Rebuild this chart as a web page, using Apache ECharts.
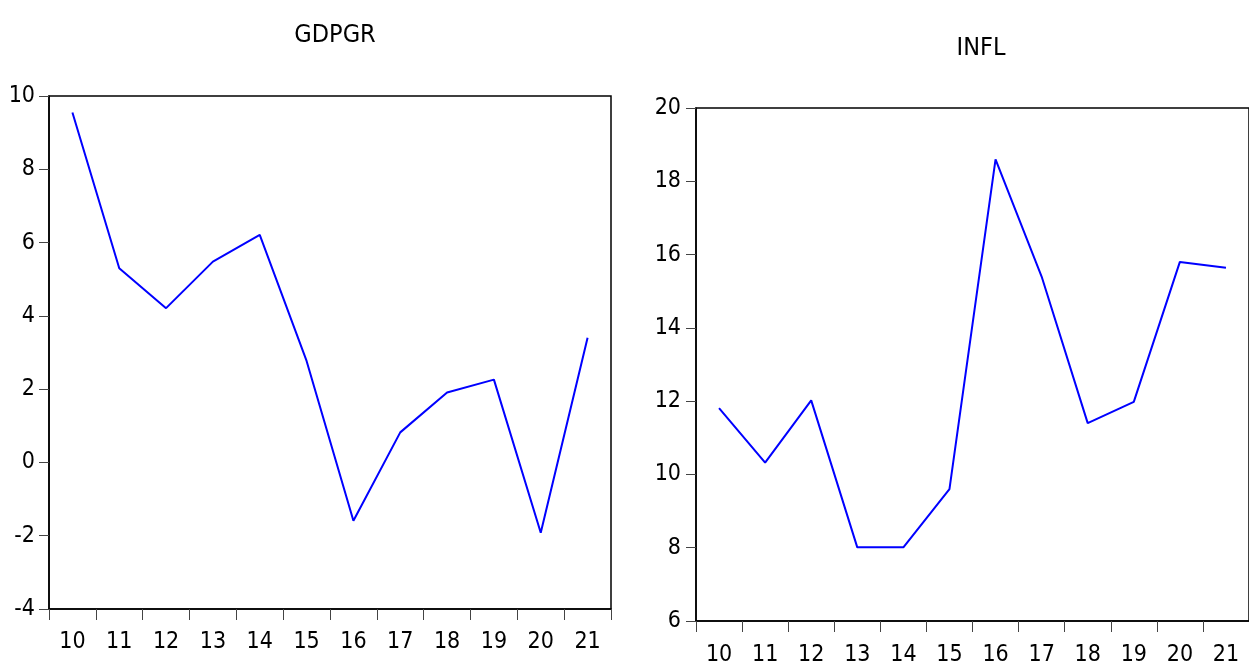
<!DOCTYPE html>
<html>
<head>
<meta charset="utf-8">
<title>GDPGR and INFL</title>
<script src="https://cdn.jsdelivr.net/npm/echarts@6/dist/echarts.min.js"></script>
<style>
  html, body { margin: 0; padding: 0; background: #fff; }
  #chart { width: 1249px; height: 667px; }
</style>
</head>
<body>
<div id="chart"></div>
<script>
// Years (two-digit) shared by both panels
const years = ['10', '11', '12', '13', '14', '15', '16', '17', '18', '19', '20', '21'];

// GDP growth rate (%)
const gdpgr = [9.55, 5.30, 4.21, 5.48, 6.21, 2.77, -1.59, 0.82, 1.91, 2.26, -1.92, 3.40];

// Inflation rate (%)
const infl = [11.81, 10.32, 12.02, 8.01, 8.01, 9.60, 18.60, 15.40, 11.40, 11.98, 15.80, 15.64];

const FONT = "'DejaVu Sans Condensed', 'Liberation Sans Narrow', 'Arial Narrow', sans-serif";

function xAxisFor(gridIndex, margin) {
  return {
    type: 'category',
    gridIndex: gridIndex,
    data: years,
    boundaryGap: true,
    axisLine: { onZero: false, lineStyle: { color: '#000', width: 1.5 } },
    axisTick: { show: true, alignWithLabel: false, length: 11, lineStyle: { color: '#444', width: 1 } },
    axisLabel: { color: '#000', fontFamily: FONT, fontSize: 23, margin: margin },
    splitLine: { show: false }
  };
}

function yAxisFor(gridIndex, min, max, margin) {
  return {
    type: 'value',
    gridIndex: gridIndex,
    min: min,
    max: max,
    interval: 2,
    axisLine: { show: true, onZero: false, lineStyle: { color: '#000', width: 1.5 } },
    axisTick: { show: true, length: 10, lineStyle: { color: '#444', width: 1 } },
    axisLabel: { color: '#000', fontFamily: FONT, fontSize: 23, margin: margin },
    splitLine: { show: false }
  };
}

const chart = echarts.init(document.getElementById('chart'), null, { renderer: 'canvas' });

chart.setOption({
  backgroundColor: '#fff',
  animation: false,
  title: [
    { text: 'GDPGR', left: 330, top: 18, textAlign: 'center',
      textStyle: { fontFamily: FONT, fontSize: 25, fontWeight: 'normal', color: '#000' } },
    { text: 'INFL', left: 976, top: 31, textAlign: 'center',
      textStyle: { fontFamily: FONT, fontSize: 25, fontWeight: 'normal', color: '#000' } }
  ],
  grid: [
    { left: 49, top: 96, width: 562, height: 513, show: true, borderColor: '#000', borderWidth: 1.5 },
    { left: 696, top: 108, width: 561, height: 513, show: true, borderColor: '#000', borderWidth: 1.5 }
  ],
  xAxis: [xAxisFor(0, 22), xAxisFor(1, 23)],
  yAxis: [yAxisFor(0, -4, 10, 14), yAxisFor(1, 6, 20, 15)],
  series: [
    {
      name: 'GDPGR', type: 'line', xAxisIndex: 0, yAxisIndex: 0,
      data: gdpgr, showSymbol: false, symbol: 'none',
      lineStyle: { color: '#0000ff', width: 2 }
    },
    {
      name: 'INFL', type: 'line', xAxisIndex: 1, yAxisIndex: 1,
      data: infl, showSymbol: false, symbol: 'none',
      lineStyle: { color: '#0000ff', width: 2 }
    }
  ]
});
</script>
</body>
</html>
